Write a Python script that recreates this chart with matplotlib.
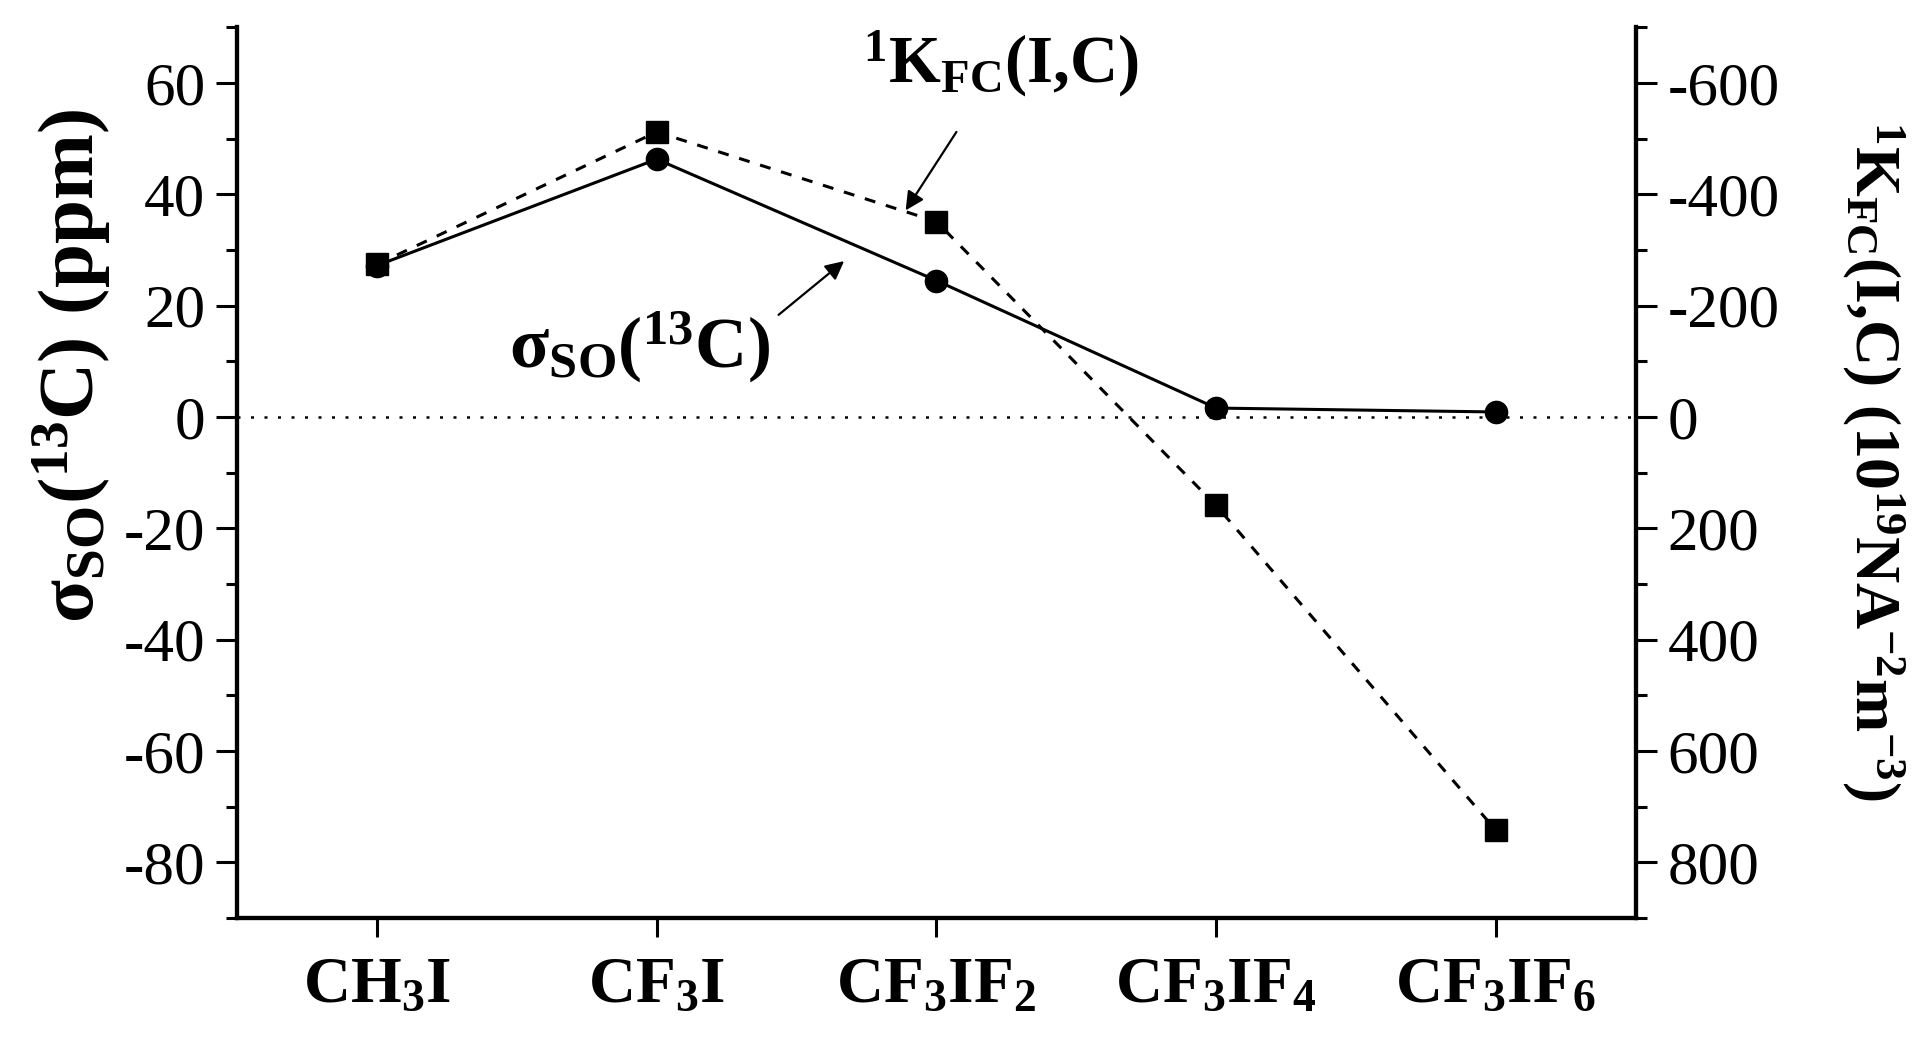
import matplotlib
matplotlib.use("Agg")
import matplotlib.pyplot as plt
from matplotlib.ticker import MultipleLocator

plt.rcParams['font.family'] = ['Liberation Serif', 'DejaVu Serif']
plt.rcParams['mathtext.fontset'] = 'custom'
plt.rcParams['mathtext.rm'] = 'Liberation Serif:bold'
plt.rcParams['mathtext.it'] = 'Liberation Serif:bold'
plt.rcParams['mathtext.bf'] = 'Liberation Serif:bold'
plt.rcParams['mathtext.default'] = 'rm'
plt.rcParams['axes.unicode_minus'] = False

# Data
categories = [r'$\mathrm{CH_3I}$', r'$\mathrm{CF_3I}$', r'$\mathrm{CF_3IF_2}$',
              r'$\mathrm{CF_3IF_4}$', r'$\mathrm{CF_3IF_6}$']
sigma_so = [27.2, 46.3, 24.5, 1.6, 0.9]          # ppm, left axis
k_fc = [-274, -512, -351, 159, 742]              # 10^19 N A^-2 m^-3, right axis
left_ticks = [-80, -60, -40, -20, 0, 20, 40, 60]
right_ticks = [-600, -400, -200, 0, 200, 400, 600, 800]

x = list(range(len(categories)))

fig = plt.figure(figsize=(19.13, 10.48), dpi=100)
ax = fig.add_axes([0.124, 0.124, 0.731, 0.850])
ax2 = ax.twinx()

ax.set_xlim(-0.5, 4.5)
ax.set_ylim(-90, 70)
ax2.set_ylim(900, -700)

# zero dotted line
ax.axhline(0, color='black', lw=1.8, linestyle=(0, (1.2, 4.2)), zorder=1)

ax.plot(x, sigma_so, color='black', lw=2.2, marker='o', ms=16, zorder=3)
ax2.plot(x, k_fc, color='black', lw=2.2, linestyle=(0, (3.6, 3.6)), marker='s', ms=16, zorder=3)

for a in (ax, ax2):
    a.spines['top'].set_visible(False)
    for s in a.spines.values():
        s.set_linewidth(3)

ax.set_xticks(x)
ax.set_xticklabels(categories, fontsize=47)
ax.tick_params(axis='x', direction='out', length=14, width=2.2, pad=14)

ax.set_yticks(left_ticks)
ax.yaxis.set_minor_locator(MultipleLocator(10))
ax.tick_params(axis='y', which='major', direction='out', length=15, width=2.2, labelsize=44, pad=8)
ax.tick_params(axis='y', which='minor', direction='out', length=8, width=2.2)

ax2.set_yticks(right_ticks)
ax2.yaxis.set_minor_locator(MultipleLocator(100))
ax2.tick_params(axis='y', which='major', direction='out', length=15, width=2.2, labelsize=44, pad=8)
ax2.tick_params(axis='y', which='minor', direction='out', length=8, width=2.2)

ax.set_ylabel(r'$\mathrm{σ_{SO}(^{13}C)\ (ppm)}$', fontsize=57)
ax.yaxis.set_label_coords(-0.089, 0.62)
ax2.set_ylabel(r'$\mathrm{^1K_{FC}(I{,}C)\ (10^{19}NA^{-2}m^{-3})}$', fontsize=46, rotation=270)
ax2.yaxis.set_label_coords(1.194, 0.513)

ax.annotate(r'$\mathrm{^1K_{FC}(I{,}C)}$', xy=(1.89, 37.1), xytext=(2.23, 63.5),
            fontsize=48, ha='center', va='center',
            arrowprops=dict(arrowstyle='-|>', color='black', lw=1.6,
                            mutation_scale=28, shrinkA=26, shrinkB=0), zorder=5)
ax.annotate(r'$\mathrm{σ_{SO}(^{13}C)}$', xy=(1.67, 28.0), xytext=(0.94, 12.6),
            fontsize=52, ha='center', va='center',
            arrowprops=dict(arrowstyle='-|>', color='black', lw=1.6,
                            mutation_scale=28, shrinkA=5, shrinkB=0,
                            relpos=(0.97, 0.75)), zorder=5)

fig.savefig('out.png', dpi=100)
